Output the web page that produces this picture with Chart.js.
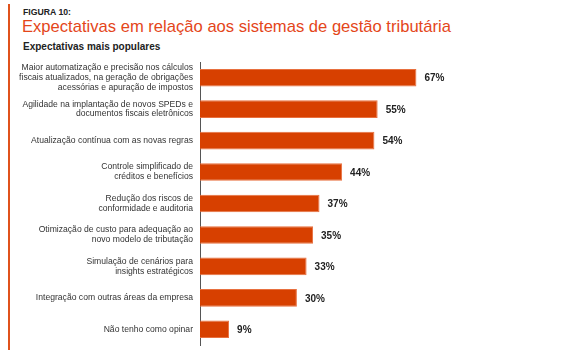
<!DOCTYPE html>
<html>
<head>
<meta charset="utf-8">
<script src="https://cdn.jsdelivr.net/npm/chart.js@4"></script>
<style>
  html, body { margin: 0; padding: 0; background: #fff; }
  body { width: 567px; height: 350px; position: relative; overflow: hidden; font-family: "Liberation Sans", Arial, sans-serif; }
  .bar-left { position: absolute; left: 8px; top: 4px; width: 2px; height: 346px; background: #e0521c; }
  .fig { position: absolute; left: 23px; top: 7px; font-size: 8.7px; font-weight: bold; color: #222; }
  .title { position: absolute; left: 22px; top: 17px; font-size: 16.6px; color: #e4461a; white-space: nowrap; }
  .sub { position: absolute; left: 23px; top: 41px; font-size: 10px; font-weight: bold; color: #222; }
  #wrap { position: absolute; left: 0; top: 0; width: 567px; height: 350px; }
</style>
</head>
<body>
<div class="bar-left"></div>
<div class="fig">FIGURA 10:</div>
<div class="title">Expectativas em relação aos sistemas de gestão tributária</div>
<div class="sub">Expectativas mais populares</div>
<div id="wrap"><canvas id="myChart"></canvas></div>

<script>
// categories (multi-line labels) and percentages
const categories = [
  ['Maior automatização e precisão nos cálculos', 'fiscais atualizados, na geração de obrigações', 'acessórias e apuração de impostos'],
  ['Agilidade na implantação de novos SPEDs e', 'documentos fiscais eletrônicos'],
  ['Atualização contínua com as novas regras'],
  ['Controle simplificado de', 'créditos e benefícios'],
  ['Redução dos riscos de', 'conformidade e auditoria'],
  ['Otimização de custo para adequação ao', 'novo modelo de tributação'],
  ['Simulação de cenários para', 'insights estratégicos'],
  ['Integração com outras áreas da empresa'],
  ['Não tenho como opinar']
];
const values = [67, 55, 54, 44, 37, 35, 33, 30, 9];

// draws "67%" etc right of each bar
const valueLabels = {
  id: 'valueLabels',
  afterDatasetsDraw(chart) {
    const ctx = chart.ctx;
    const meta = chart.getDatasetMeta(0);
    ctx.save();
    ctx.font = 'bold 10px "Liberation Sans", Arial, sans-serif';
    ctx.fillStyle = '#222';
    ctx.textBaseline = 'middle';
    meta.data.forEach(function (bar, i) {
      ctx.fillText(values[i] + '%', bar.x + 8, bar.y + 1);
    });
    ctx.restore();
  }
};

const ctx = document.getElementById('myChart');
new Chart(ctx, {
  type: 'bar',
  data: {
    labels: categories,
    datasets: [{
      data: values,
      backgroundColor: '#d74000',
      borderColor: '#e8703f',
      borderWidth: 1,
      borderSkipped: 'left',
      barPercentage: 0.56,
      categoryPercentage: 1
    }]
  },
  options: {
    indexAxis: 'y',
    responsive: true,
    maintainAspectRatio: false,
    animation: false,
    layout: { padding: { top: 62, bottom: 5, left: 0, right: 44 } },
    plugins: { legend: { display: false }, tooltip: { enabled: false } },
    scales: {
      x: { min: 0, max: 100, display: false },
      y: {
        // fixed label column; no extra room for the 3-line first label
        afterFit(scale) {
          scale.width = 200;
          scale.paddingTop = 0;
          scale.paddingBottom = 0;
        },
        grid: { display: false, drawTicks: false },
        border: { display: true, color: '#555', width: 1 },
        ticks: {
          autoSkip: false,
          padding: 7,
          color: '#333',
          font: { size: 8.6, family: '"Liberation Sans", Arial, sans-serif', lineHeight: 1.15 }
        }
      }
    }
  },
  plugins: [valueLabels]
});
</script>
</body>
</html>
